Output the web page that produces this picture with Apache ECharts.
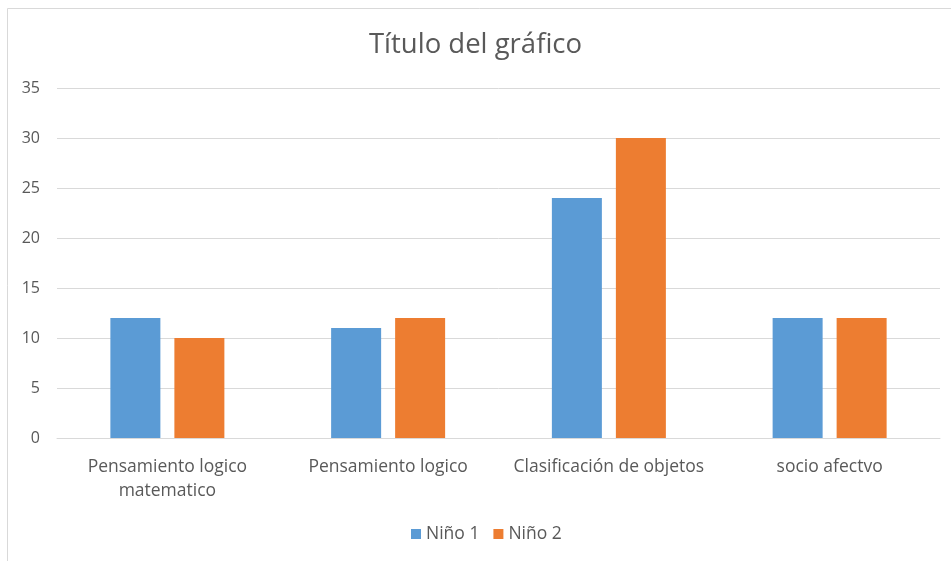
<!DOCTYPE html>
<html><head><meta charset="utf-8">
<script src="https://cdn.jsdelivr.net/npm/echarts@6/dist/echarts.min.js"></script>
<style>html,body{margin:0;padding:0;background:#fff}#c{width:951px;height:561px}</style>
</head><body><div id="c"></div>
<script>
const categories = ['Pensamiento logico\nmatematico', 'Pensamiento logico', 'Clasificación de objetos', 'socio afectvo'];
const nino1 = [12, 11, 24, 12];
const nino2 = [10, 12, 30, 12];
const seriesNames = ['Niño 1', 'Niño 2'];
const FONT = 'Open Sans';
const chart = echarts.init(document.getElementById('c'));
chart.setOption({
  animation: false,
  backgroundColor: '#fff',
  graphic: [{type: 'rect', left: 5, top: 6, shape: {width: 1000, height: 600}, style: {fill: 'none', stroke: '#d9d9d9', lineWidth: 1}, silent: true, z: -1}],
  title: {text: 'Título del gráfico', left: 'center', top: 26, textStyle: {fontFamily: FONT, fontSize: 27.5, fontWeight: 'normal', color: '#595959'}},
  legend: {bottom: 13, left: 406, itemWidth: 10, itemHeight: 10, itemGap: 14, itemTextGap: 6, icon: 'rect',
    textStyle: {fontFamily: FONT, fontSize: 17.5, color: '#595959'}, data: seriesNames},
  grid: {left: 57, right: 11, top: 88, bottom: 123},
  xAxis: {type: 'category', data: categories,
    axisLine: {lineStyle: {color: '#d9d9d9'}}, axisTick: {show: false},
    axisLabel: {interval: 0, fontFamily: FONT, fontSize: 17.5, color: '#595959', margin: 17, lineHeight: 24}},
  yAxis: {type: 'value', min: 0, max: 35, interval: 5,
    axisLine: {show: false}, axisTick: {show: false},
    splitLine: {lineStyle: {color: '#d9d9d9'}},
    axisLabel: {fontFamily: FONT, fontSize: 16, color: '#595959', margin: 17}},
  series: [
    {name: seriesNames[0], type: 'bar', data: nino1, barWidth: 50, barGap: '28%', itemStyle: {color: '#5B9BD5'}},
    {name: seriesNames[1], type: 'bar', data: nino2, barWidth: 50, itemStyle: {color: '#ED7D31'}}
  ]
});
</script></body></html>
